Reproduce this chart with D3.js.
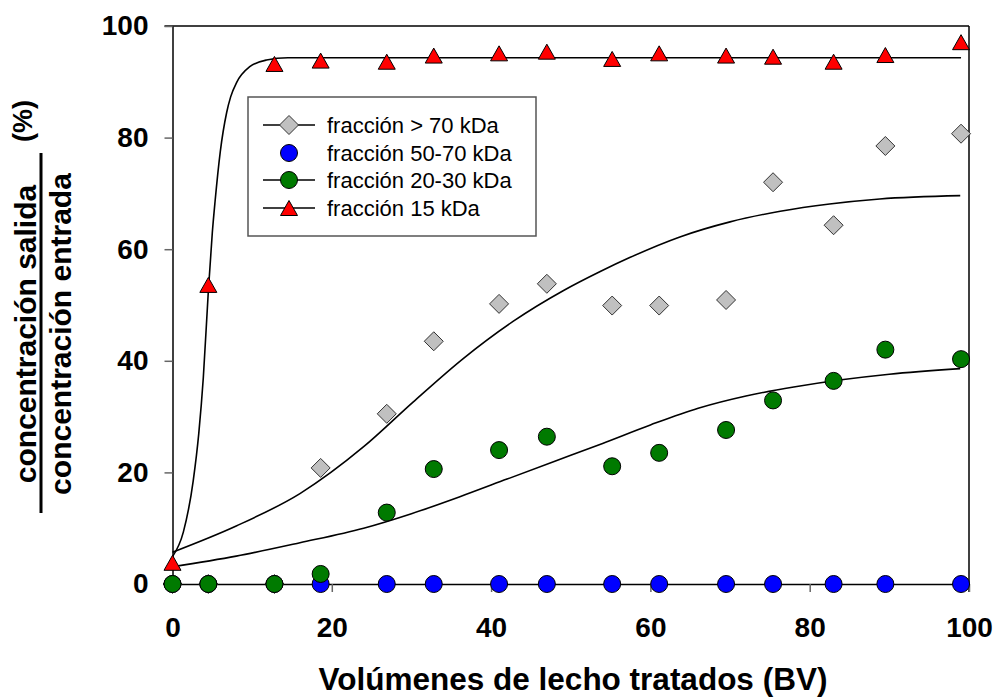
<!DOCTYPE html>
<html>
<head>
<meta charset="utf-8">
<script src="https://cdn.jsdelivr.net/npm/d3@7"></script>
<style>
  html, body { margin: 0; padding: 0; background: #fff; }
  svg { display: block; font-family: "Liberation Sans", Arial, sans-serif; }
</style>
</head>
<body>
<svg id="chart" width="999" height="699"></svg>
<script>
// ---- Data ----
const bedVolumes = [0, 4.5, 12.8, 18.6, 26.9, 32.8, 41.0, 47.0, 55.2, 61.1, 69.5, 75.4, 83.0, 89.5, 99.0];
const fracAbove70 = [0, 0, 0, 20.8, 30.5, 43.5, 50.2, 53.8, 49.9, 49.9, 50.9, 72.0, 64.3, 78.5, 80.7];
const frac50to70 = [0, 0, 0, 0, 0, 0, 0, 0, 0, 0, 0, 0, 0, 0, 0];
const frac20to30 = [0, 0, 0, 1.8, 12.8, 20.6, 24.0, 26.4, 21.1, 23.5, 27.6, 32.9, 36.4, 42.0, 40.3];
const frac15 = [3.8, 53.6, 93.2, 93.8, 93.6, 94.7, 95.1, 95.4, 94.1, 95.1, 94.7, 94.5, 93.6, 94.8, 97.1];

// fitted curves, points
const fitAbove70X = [0, 8, 16, 24, 30.2, 36.5, 42.8, 49.1, 53.7, 57.4, 63.7, 70.0, 76.3, 82.5, 88.8, 98.9];
const fitAbove70Y = [5.7, 10.4, 16.2, 24.6, 32.6, 40.4, 47.1, 52.6, 56.0, 58.5, 62.2, 64.9, 66.8, 68.1, 69.0, 69.6];
const fit20to30X = [0, 8, 16, 24, 30, 36, 42, 48, 54, 60, 66, 72, 78, 84, 90, 98.9];
const fit20to30Y = [3.1, 5.0, 7.4, 10.0, 12.6, 15.6, 18.8, 22.0, 25.2, 28.5, 31.5, 33.7, 35.3, 36.6, 37.6, 38.6];
const fit15X = [0, 1.36, 2.6, 3.3, 3.87, 4.5, 5.0, 5.34, 6.0, 6.8, 7.3, 8.06, 9.7, 11.8, 14.5, 30, 50, 70, 99.0];
const fit15Y = [4.9, 9.3, 18.5, 27.0, 37.0, 52.5, 63.0, 68.5, 77.5, 84.5, 87.3, 89.9, 92.7, 93.9, 94.3, 94.3, 94.3, 94.3, 94.3];

const xTicks = [0, 20, 40, 60, 80, 100];
const yTicks = [0, 20, 40, 60, 80, 100];
const legendLabels = ["fracción > 70 kDa", "fracción 50-70 kDa", "fracción 20-30 kDa", "fracción 15 kDa"];
const xTitle = "Volúmenes de lecho tratados (BV)";
const yTitleTop = "concentración salida";
const yTitleBottom = "concentración entrada";
const yUnit = "(%)";

// ---- Layout ----
const svg = d3.select("#chart");
const pLeft = 172.5, pRight = 969, pTop = 26, pBottom = 584;
const x = d3.scaleLinear().domain([0, 100]).range([pLeft, pRight]);
const y = d3.scaleLinear().domain([0, 100]).range([pBottom, pTop]);

// frame (top and right)
svg.append("line").attr("x1", pLeft - 8).attr("x2", pRight).attr("y1", y(100)).attr("y2", y(100))
  .attr("stroke", "#000").attr("stroke-width", 1.5);
svg.append("line").attr("x1", x(100)).attr("x2", x(100)).attr("y1", pTop).attr("y2", pBottom + 8)
  .attr("stroke", "#000").attr("stroke-width", 1.5);

// axes
const yAxis = svg.append("g").attr("transform", `translate(${pLeft},0)`)
  .call(d3.axisLeft(y).tickValues(yTicks).tickSize(8).tickSizeOuter(0).tickPadding(16));
const xAxis = svg.append("g").attr("transform", `translate(0,${pBottom})`)
  .call(d3.axisBottom(x).tickValues(xTicks).tickSize(8).tickSizeOuter(0).tickPadding(25));
[xAxis, yAxis].forEach(g => {
  g.select(".domain").attr("stroke", "#000").attr("stroke-width", 1.5);
  g.selectAll(".tick line").attr("stroke", "#666").attr("stroke-width", 1.5);
  g.selectAll(".tick text").attr("fill", "#000")
    .style("font-family", "'Liberation Sans', Arial, sans-serif")
    .style("font-size", "28px").style("font-weight", "bold");
});

// axis titles
svg.append("text").attr("x", 573).attr("y", 690).attr("text-anchor", "middle")
  .style("font-size", "31.5px").style("font-weight", "bold").text(xTitle);
svg.append("text").attr("transform", "translate(36,334) rotate(-90)").attr("text-anchor", "middle")
  .style("font-size", "30px").style("font-weight", "bold").text(yTitleTop);
svg.append("text").attr("transform", "translate(71,334) rotate(-90)").attr("text-anchor", "middle")
  .style("font-size", "30px").style("font-weight", "bold").text(yTitleBottom);
svg.append("line").attr("x1", 41).attr("x2", 41).attr("y1", 153).attr("y2", 513)
  .attr("stroke", "#000").attr("stroke-width", 3);
svg.append("text").attr("transform", "translate(23,121) rotate(-90)").attr("text-anchor", "middle")
  .attr("dy", "0.35em").style("font-size", "27px").style("font-weight", "bold").text(yUnit);

// fitted curves
const line = d3.line().x(d => x(d[0])).y(d => y(d[1])).curve(d3.curveMonotoneX);
[[fitAbove70X, fitAbove70Y], [fit20to30X, fit20to30Y], [fit15X, fit15Y]].forEach(([xs, ys]) => {
  svg.append("path").datum(xs.map((v, i) => [v, ys[i]])).attr("d", line)
    .attr("fill", "none").attr("stroke", "#000").attr("stroke-width", 1.6);
});

// marker shapes
const diamond = (cx, cy) => `M${cx},${cy - 9.5}L${cx + 9.5},${cy}L${cx},${cy + 9.5}L${cx - 9.5},${cy}Z`;
const triangle = (cx, cy) => `M${cx},${cy - 7.5}L${cx + 8.5},${cy + 7.5}L${cx - 8.5},${cy + 7.5}Z`;

const pts = arr => bedVolumes.map((v, i) => [v, arr[i]]);

svg.append("g").selectAll("path").data(pts(fracAbove70)).join("path")
  .attr("d", d => diamond(x(d[0]), y(d[1]))).attr("fill", "#c0c0c0").attr("stroke", "#333").attr("stroke-width", 1);
svg.append("g").selectAll("circle").data(pts(frac50to70)).join("circle")
  .attr("cx", d => x(d[0])).attr("cy", d => y(d[1])).attr("r", 8.5)
  .attr("fill", "#0000ff").attr("stroke", "#000").attr("stroke-width", 1);
svg.append("g").selectAll("circle").data(pts(frac20to30)).join("circle")
  .attr("cx", d => x(d[0])).attr("cy", d => y(d[1])).attr("r", 8.5)
  .attr("fill", "#007a00").attr("stroke", "#000").attr("stroke-width", 1);
svg.append("g").selectAll("path").data(pts(frac15)).join("path")
  .attr("d", d => triangle(x(d[0]), y(d[1]))).attr("fill", "#ff0000").attr("stroke", "#000").attr("stroke-width", 1);

// legend
const lg = svg.append("g");
lg.append("rect").attr("x", 248).attr("y", 97).attr("width", 288).attr("height", 139)
  .attr("fill", "#fff").attr("stroke", "#555").attr("stroke-width", 1.5);
const rowY = [125, 153, 180, 208];
const symX = 289;
legendLabels.forEach((lab, i) => {
  const ry = rowY[i];
  if (i !== 1) {
    lg.append("line").attr("x1", 263).attr("x2", 315).attr("y1", ry).attr("y2", ry)
      .attr("stroke", "#000").attr("stroke-width", 1.3);
  }
  if (i === 0) lg.append("path").attr("d", diamond(symX, ry)).attr("fill", "#c0c0c0").attr("stroke", "#333");
  if (i === 1) lg.append("circle").attr("cx", symX).attr("cy", ry).attr("r", 8.5).attr("fill", "#0000ff").attr("stroke", "#000");
  if (i === 2) lg.append("circle").attr("cx", symX).attr("cy", ry).attr("r", 8.5).attr("fill", "#007a00").attr("stroke", "#000");
  if (i === 3) lg.append("path").attr("d", triangle(symX, ry)).attr("fill", "#ff0000").attr("stroke", "#000");
  lg.append("text").attr("x", 327).attr("y", ry).attr("dy", "0.36em")
    .style("font-size", "22px").attr("fill", "#000").text(lab);
});
</script>
</body>
</html>
